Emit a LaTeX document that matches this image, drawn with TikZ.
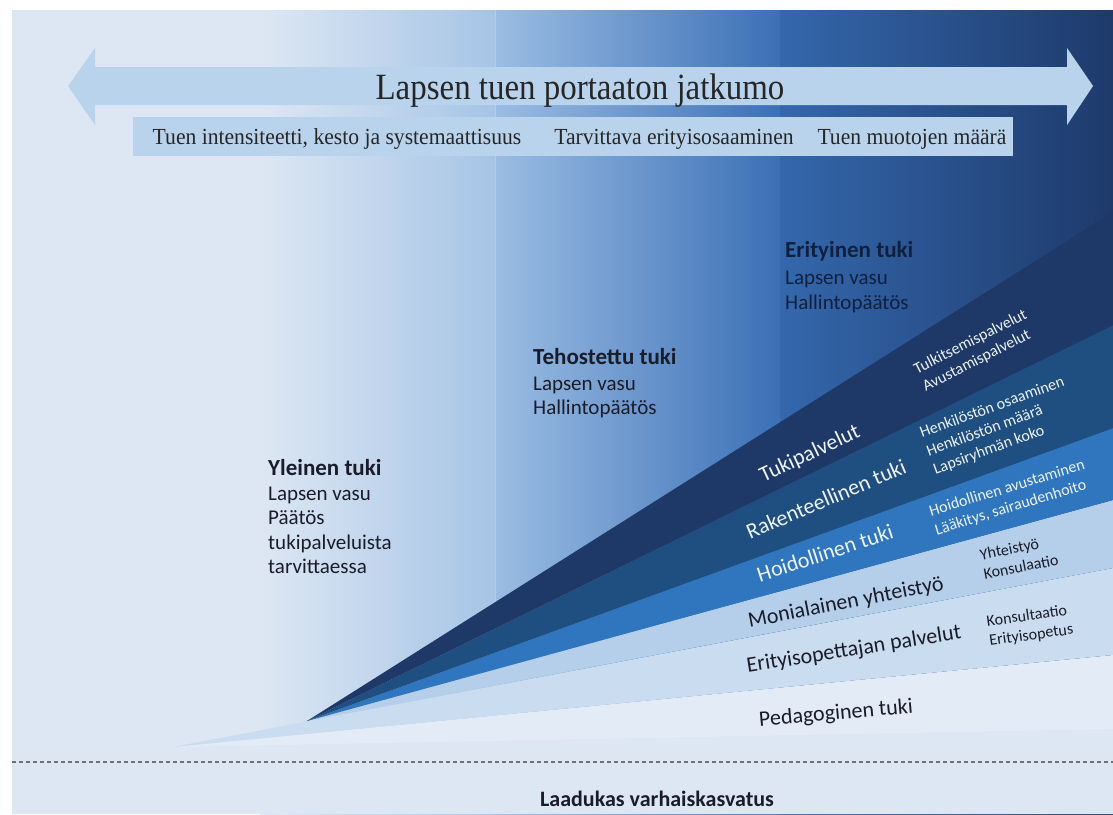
\documentclass[tikz,border=0pt]{standalone}
\usepackage{fontspec}
\usepackage{graphicx}
\setmainfont{Liberation Serif}
\newfontfamily\calfont{Carlito}
\definecolor{bglight}{HTML}{DDE7F3}
\definecolor{pA}{HTML}{A6C4E6}
\definecolor{pBa}{HTML}{9BBDE3}
\definecolor{pBb}{HTML}{3B70B6}
\definecolor{pCa}{HTML}{3467AC}
\definecolor{pCb}{HTML}{1E3A6B}
\definecolor{sepline}{HTML}{B4CDEA}
\definecolor{arrowc}{HTML}{BAD3EC}
\definecolor{cTuki}{HTML}{1E3868}
\definecolor{cRak}{HTML}{1F4E80}
\definecolor{cHoid}{HTML}{2F76BE}
\definecolor{cMon}{HTML}{B5CFEA}
\definecolor{cErit}{HTML}{CADCF0}
\definecolor{cPed}{HTML}{E2EBF6}
\definecolor{darktxt}{HTML}{1A1C2A}
\definecolor{navytxt}{HTML}{0F203E}
\definecolor{lighttxt}{HTML}{EEF3F9}
\definecolor{dotc}{HTML}{6E7175}
\begin{document}
\begin{tikzpicture}[x=1pt,y=-1pt,
  blk/.style={font=\calfont\fontsize{21}{24}\selectfont, anchor=base west, inner sep=0pt},
  blkt/.style={font=\calfont\bfseries\fontsize{23}{26}\selectfont, anchor=base west, inner sep=0pt},
  bandlbl/.style={font=\calfont\fontsize{22}{24}\selectfont, inner sep=0pt},
  smalllbl/.style={font=\calfont\fontsize{16}{19.5}\selectfont, align=left, inner sep=0pt},
  subtxt/.style={font=\fontsize{23}{26}\selectfont, text=black!85, anchor=base, inner sep=0pt}]
\useasboundingbox (0,0) rectangle (1113,814);
\fill[white] (0,0) rectangle (1113,814);
% background panels
\fill[bglight] (12,10) rectangle (260,814);
\shade[left color=bglight, right color=pA] (260,10) rectangle (495,814);
\shade[left color=pBa, right color=pBb] (495,10) rectangle (780,814);
\shade[left color=pCa, right color=pCb] (780,10) rectangle (1113,814);
\draw[sepline, line width=1pt] (495,10) -- (495,740);
\fill[bglight] (12,752) -- (173,746) -- (1113,720) -- (1113,814) -- (12,814) -- cycle;
% wedge bands
\fill[cPed]  (173,747) -- (1113,655) -- (1113,729) -- cycle;
\fill[cErit] (173,747) -- (1113,568) -- (1113,655) -- cycle;
\fill[cMon]  (307,721) -- (1113,500) -- (1113,568) -- cycle;
\fill[cHoid] (307,721) -- (1113,428) -- (1113,500) -- cycle;
\fill[cRak]  (307,721) -- (1113,325) -- (1113,428) -- cycle;
\fill[cTuki] (307,721) -- (1113,212) -- (1113,325) -- cycle;
% top arrow and bar
\fill[arrowc] (68,86) -- (95,48) -- (95,67) -- (1067,67) -- (1067,48) -- (1093,86)
  -- (1067,125) -- (1067,105) -- (95,105) -- (95,125) -- cycle;
\fill[arrowc] (133,117) rectangle (1013,156);
\node[anchor=base, inner sep=0pt, text=black!85] (title) at (580,99)
  {\scalebox{0.89}[1]{\fontsize{37}{40}\selectfont Lapsen tuen portaaton jatkumo}};
\node[subtxt] (sub1) at (337,144) {\scalebox{0.94}[1]{Tuen intensiteetti, kesto ja systemaattisuus}};
\node[subtxt] (sub2) at (674,144) {\scalebox{0.94}[1]{Tarvittava erityisosaaminen}};
\node[subtxt] (sub3) at (912,144) {\scalebox{0.94}[1]{Tuen muotojen määrä}};
% level blocks
\node[blkt, text=darktxt] (y0) at (268,475) {Yleinen tuki};
\node[blk, text=darktxt] (y1) at (268,500) {Lapsen vasu};
\node[blk, text=darktxt] (y2) at (268,524.5) {Päätös};
\node[blk, text=darktxt] (y3) at (268,549) {tukipalveluista};
\node[blk, text=darktxt] (y4) at (268,573.5) {tarvittaessa};
\node[blkt, text=darktxt] (t0) at (533,364) {Tehostettu tuki};
\node[blk, text=darktxt] (t1) at (533,390) {Lapsen vasu};
\node[blk, text=darktxt] (t2) at (533,414) {Hallintopäätös};
\node[blkt, text=navytxt] (e0) at (785,257) {Erityinen tuki};
\node[blk, text=navytxt] (e1) at (785,284) {Lapsen vasu};
\node[blk, text=navytxt] (e2) at (785,309) {Hallintopäätös};
% band labels
\node[bandlbl, text=lighttxt, rotate=25] (tp) at (810,454) {Tukipalvelut};
\node[bandlbl, text=lighttxt, rotate=23] (rk) at (826,499) {Rakenteellinen tuki};
\node[bandlbl, text=lighttxt, rotate=18] (ho) at (825,553) {Hoidollinen tuki};
\node[bandlbl, text=darktxt, rotate=11] (mo) at (846,603) {Monialainen yhteistyö};
\node[bandlbl, text=darktxt, rotate=9] (er) at (854,650) {Erityisopettajan palvelut};
\node[bandlbl, text=darktxt, rotate=5] (pe) at (836,714) {Pedagoginen tuki};
% small labels
\node[smalllbl, text=lighttxt, rotate=27] (s1) at (975,351) {Tulkitsemispalvelut\\Avustamispalvelut};
\node[smalllbl, text=lighttxt, rotate=20] (s2) at (999,426) {Henkilöstön osaaminen\\Henkilöstön määrä\\Lapsiryhmän koko};
\node[smalllbl, text=lighttxt, rotate=17] (s3) at (1010,498) {Hoidollinen avustaminen\\Lääkitys, sairaudenhoito};
\node[smalllbl, text=darktxt, rotate=11] (s4) at (1019,557) {Yhteistyö\\Konsulaatio};
\node[smalllbl, text=darktxt, rotate=8] (s5) at (1030,626) {Konsultaatio\\Erityisopetus};
% dotted line and base label
\draw[dotc, line width=1.8pt, dash pattern=on 4pt off 3pt] (12,762) -- (1113,762);
\node[font=\calfont\bfseries\fontsize{22}{24}\selectfont, text=darktxt, anchor=base, inner sep=0pt] (base) at (657,806) {Laadukas varhaiskasvatus};
\end{tikzpicture}
\end{document}
